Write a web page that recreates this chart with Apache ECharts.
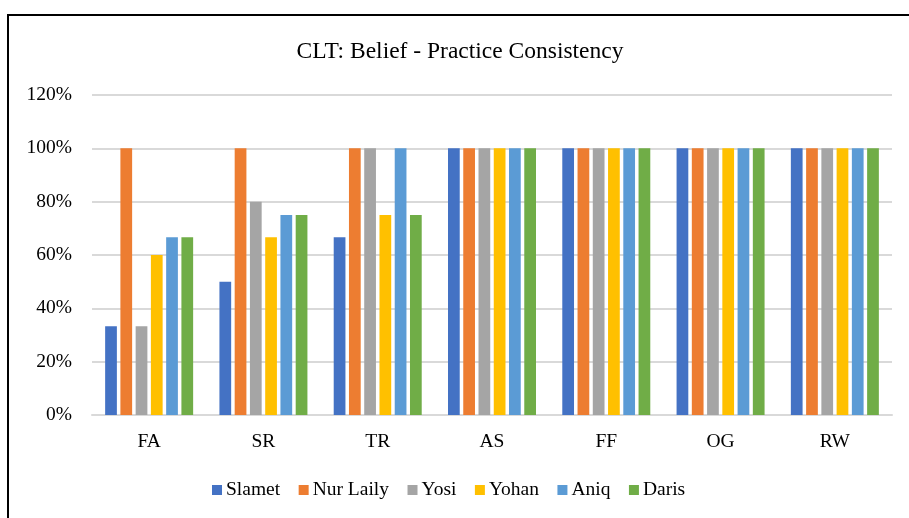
<!DOCTYPE html>
<html>
<head>
<meta charset="utf-8">
<script src="https://cdn.jsdelivr.net/npm/echarts@6/dist/echarts.min.js"></script>
<style>
html,body{margin:0;padding:0;background:#fff;}
#chart{width:909px;height:518px;}
</style>
</head>
<body>
<div id="chart"></div>
<script>
var categories = ['FA', 'SR', 'TR', 'AS', 'FF', 'OG', 'RW'];
var seriesNames = ['Slamet', 'Nur Laily', 'Yosi', 'Yohan', 'Aniq', 'Daris'];
var slamet   = [33.3, 50, 66.7, 100, 100, 100, 100];
var nurLaily = [100, 100, 100, 100, 100, 100, 100];
var yosi     = [33.3, 80, 100, 100, 100, 100, 100];
var yohan    = [60, 66.7, 75, 100, 100, 100, 100];
var aniq     = [66.7, 75, 100, 100, 100, 100, 100];
var daris    = [66.7, 75, 75, 100, 100, 100, 100];
var colors = ['#4472C4', '#ED7D31', '#A5A5A5', '#FFC000', '#5B9BD5', '#70AD47'];
var yTicks = [0, 20, 40, 60, 80, 100, 120];

var allData = [slamet, nurLaily, yosi, yohan, aniq, daris];
var font = '"Liberation Serif", "Times New Roman", serif';

var chart = echarts.init(document.getElementById('chart'), null, {renderer: 'canvas'});
chart.setOption({
  animation: false,
  backgroundColor: '#fff',
  color: colors,
  title: {
    text: 'CLT: Belief - Practice Consistency',
    left: 455, top: 35, textAlign: 'center',
    textStyle: {fontFamily: font, fontSize: 23.5, fontWeight: 'normal', color: '#000'}
  },
  legend: {
    data: seriesNames,
    left: 207, top: 475,
    itemWidth: 10, itemHeight: 10, itemGap: 18.5,
    icon: 'rect',
    textStyle: {fontFamily: font, fontSize: 19.5, color: '#000', padding: [0, 0, 0, -1]}
  },
  grid: {left: 92, right: 17, top: 95, bottom: 103, containLabel: false},
  xAxis: {
    type: 'category', data: categories,
    axisLine: {show: true, lineStyle: {color: '#d9d9d9', width: 2}},
    axisTick: {show: false},
    axisLabel: {fontFamily: font, fontSize: 19.5, color: '#000', margin: 17}
  },
  yAxis: {
    type: 'value', min: yTicks[0], max: yTicks[yTicks.length - 1], interval: 20,
    axisLine: {show: false}, axisTick: {show: false},
    splitLine: {lineStyle: {color: '#d9d9d9', width: 2}},
    axisLabel: {fontFamily: font, fontSize: 19.5, color: '#000', margin: 20, formatter: '{value}%'}
  },
  graphic: [
    {type: 'line', shape: {x1: 7, y1: 15, x2: 909, y2: 15}, style: {stroke: '#000', lineWidth: 2}},
    {type: 'line', shape: {x1: 8, y1: 14, x2: 8, y2: 518}, style: {stroke: '#000', lineWidth: 2}}
  ],
  series: seriesNames.map(function (n, i) {
    return {
      name: n, type: 'bar', data: allData[i],
      barGap: '30%', barCategoryGap: '23%',
      itemStyle: {color: colors[i]}
    };
  })
});
</script>
</body>
</html>
